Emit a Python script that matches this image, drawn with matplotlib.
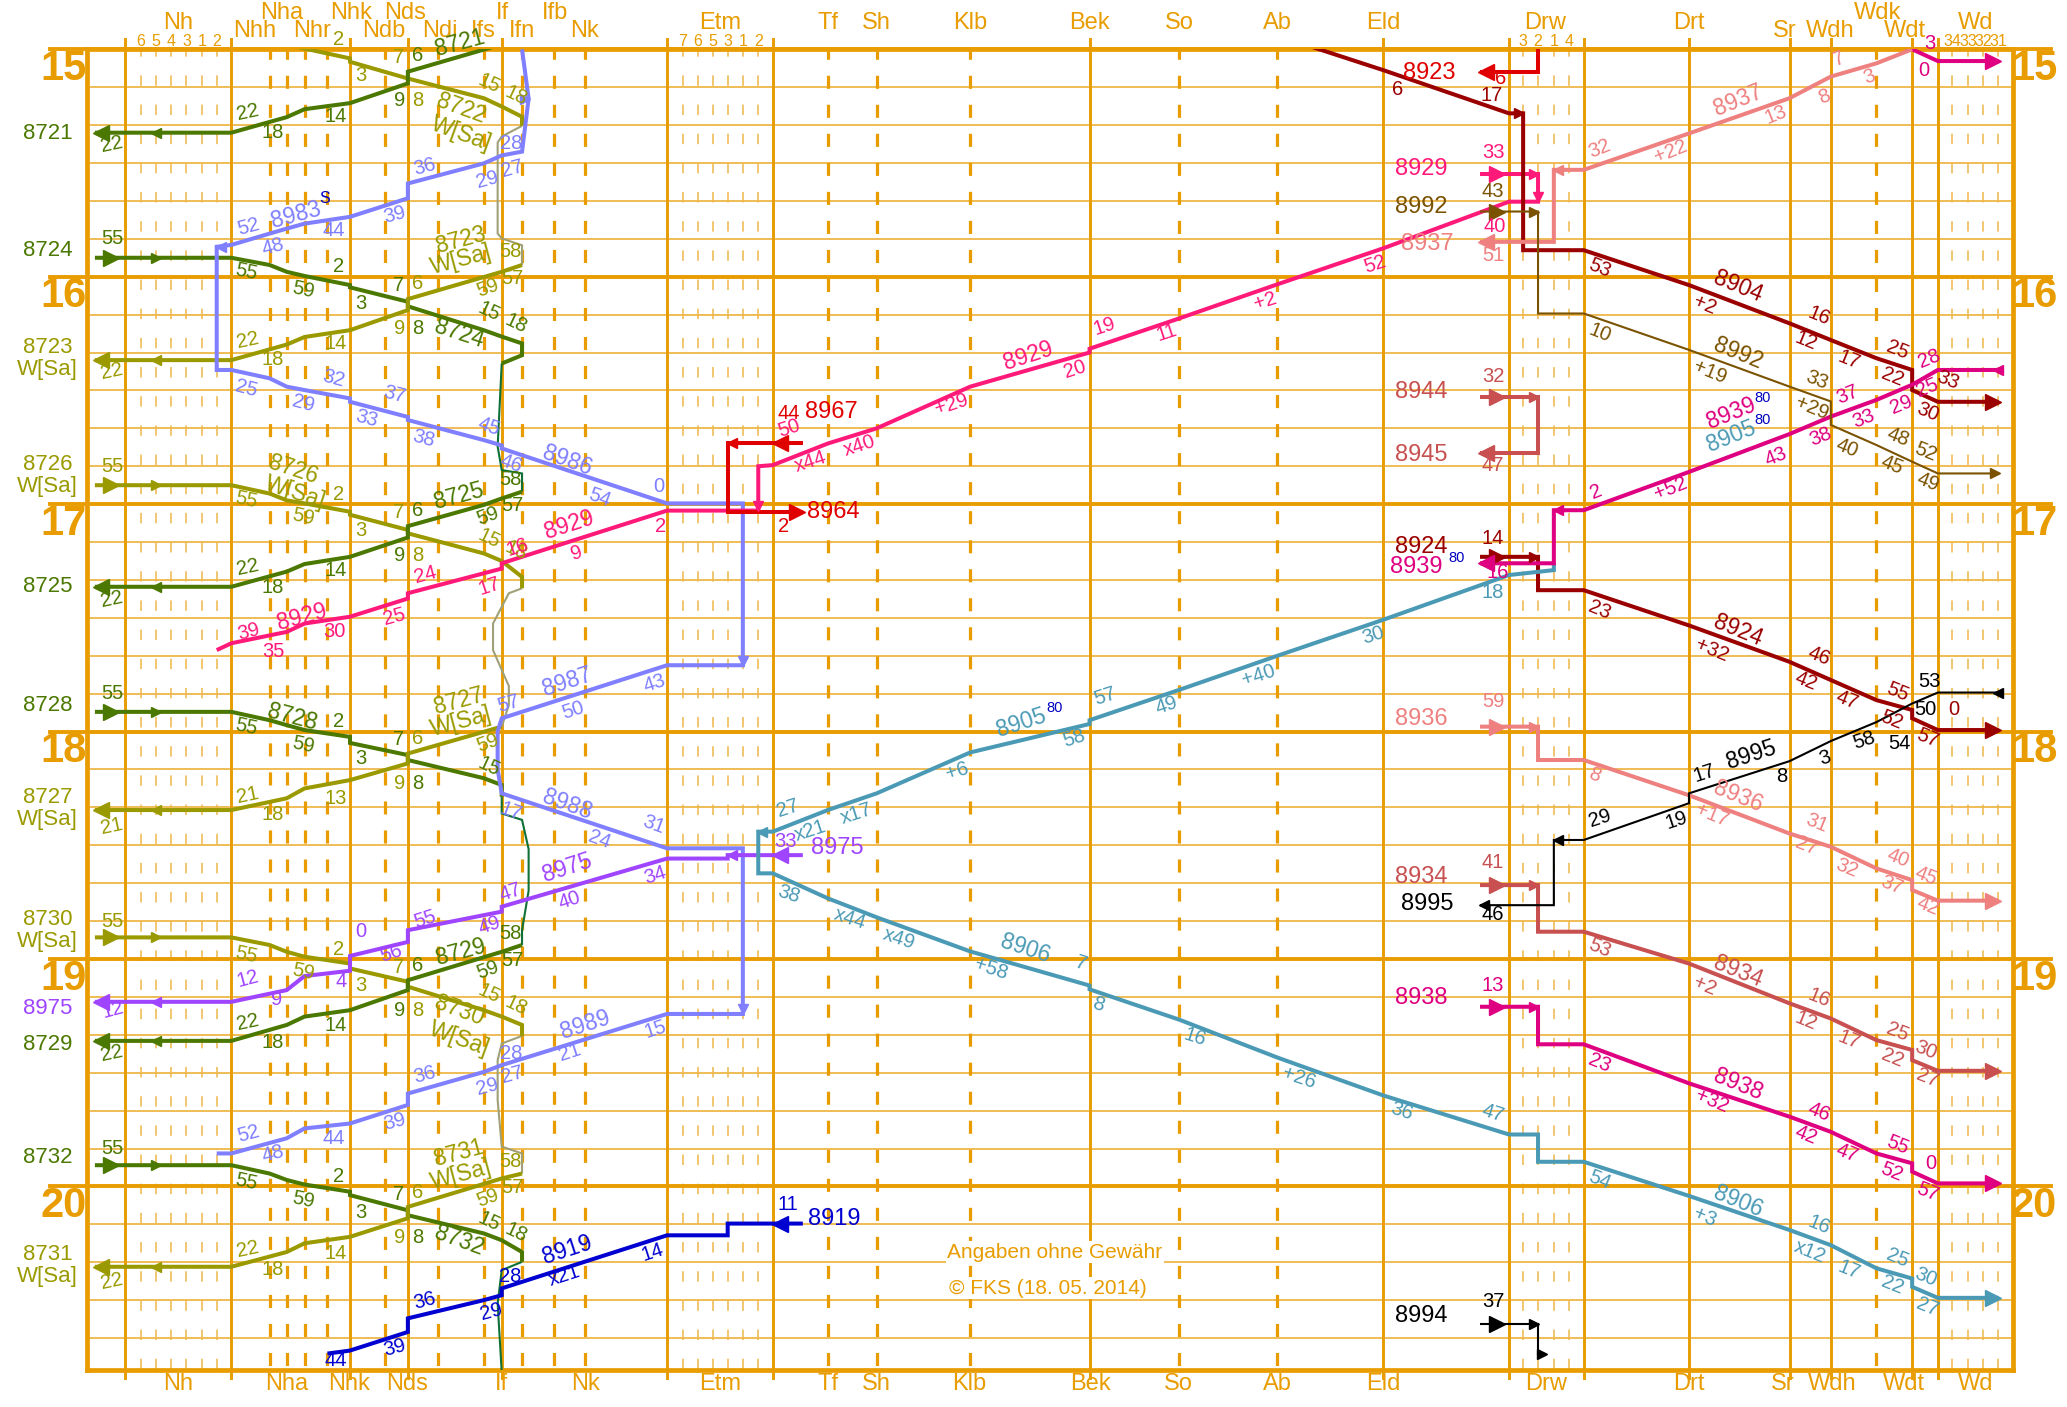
import matplotlib
matplotlib.use("Agg")
import matplotlib.pyplot as plt

plt.rcParams["font.family"] = ["Liberation Sans", "DejaVu Sans"]
plt.rcParams["lines.scale_dashes"] = False

ORANGE = "#e89c00"
ORANGE_LIGHT = "#efb64a"

# positions along the line (chart units), incl. track and stub positions
POS = {
    "W0": 72, "NhL": 95, "Nh2": 164.4, "NhR": 175.5, "Nhh": 204.5, "Nha": 217.5,
    "Nhr": 231, "Nhx": 248.4, "Nhk": 265.5, "Ndb": 292, "Nds": 309.4, "Ndi": 332,
    "Ifs": 367, "IfL": 374, "Ifm": 377.5, "If": 380.6, "IfR": 386, "Ifn": 396,
    "IfR3": 401, "Ifb": 420.5, "Nk": 443.5, "EtmL": 506, "Etm3": 552, "Etm1": 563.5,
    "Etm2": 575.2, "EtmR": 586.2, "EtmE": 609, "Tf": 628, "Sh": 665, "Klb": 736,
    "Bek": 826.5, "So": 894.5, "Ab": 969, "Eld": 1049.3, "DrwW": 1122.7,
    "DrwL": 1144.7, "Drw3": 1155.4, "Drw2": 1166.7, "Drw2b": 1173, "Drw1": 1178.7,
    "DrwR": 1201.4, "Drt": 1281.2, "Sr": 1357.5, "Wdh": 1388.8, "Wdk": 1423.4,
    "Wdt": 1450.5, "WdL": 1470, "E0": 1516,
}
MAIN_STATIONS = ["NhL", "NhR", "Nhk", "Nds", "If", "EtmL", "EtmR", "Bek", "Eld",
                 "DrwL", "DrwR", "Drt", "Sr", "Wdh", "Wdt", "WdL"]
HALTS = ["Nhh", "Nha", "Nhr", "Nhx", "Ndb", "Ndi", "Ifs", "Ifn", "Ifb", "Nk",
         "Tf", "Sh", "Klb", "So", "Ab", "Wdk"]
TRACK_NAMES = {
    "Nh": ["6", "5", "4", "3", "1", "2"],
    "Etm": ["7", "6", "5", "3", "1", "2"],
    "Drw": ["3", "2", "1", "4"],
    "Wd": ["34", "33", "32", "31"],
}
TRACK_X = {
    "Nh": [107, 118.4, 130, 141.4, 153, 164.4],
    "Etm": [517.8, 529.3, 540.5, 552, 563.5, 575.2],
    "Drw": [1155.4, 1166.7, 1178.7, 1190],
    "Wd": [1481, 1493, 1504.3, 1516],
}
# station names: (text, x, row)  row 0 low, 1 mid, 2 high
TOP_NAMES = [("Nh", 135.5, 1), ("Nhh", 193, 0), ("Nha", 214, 2), ("Nhr", 237, 0),
             ("Nhk", 266, 2), ("Ndb", 291, 0), ("Nds", 307, 2), ("Ndi", 333.6, 0),
             ("Ifs", 366.8, 0), ("If", 381, 2), ("Ifn", 395.6, 0), ("Ifb", 421, 2),
             ("Nk", 443.7, 0), ("Etm", 546, 1), ("Tf", 628, 1), ("Sh", 665, 1),
             ("Klb", 736, 1), ("Bek", 826.7, 1), ("So", 894.5, 1), ("Ab", 969, 1),
             ("Eld", 1049.3, 1), ("Drw", 1172, 1), ("Drt", 1281, 1), ("Sr", 1354, 0),
             ("Wdh", 1388.5, 0), ("Wdk", 1424, 2), ("Wdt", 1445, 0), ("Wd", 1498.3, 1)]
BOTTOM_NAMES = [("Nh", 135), ("Nha", 217.6), ("Nhk", 265), ("Nds", 309), ("If", 380),
                ("Nk", 444), ("Etm", 546), ("Tf", 628), ("Sh", 665), ("Klb", 735.5),
                ("Bek", 827), ("So", 894), ("Ab", 969), ("Eld", 1049), ("Drw", 1173),
                ("Drt", 1281.5), ("Sr", 1352), ("Wdh", 1390), ("Wdt", 1444), ("Wd", 1499)]
HOURS = [15, 16, 17, 18, 19, 20]

GREEN, OLIVE = "#4b7800", "#9a9a00"
KHAKI, DKGREEN = "#a0a078", "#0f7038"
LBLUE, PURPLE, PINK = "#7f7fff", "#a045ff", "#ff1a7a"
BLUE, RED, DKRED = "#0000d0", "#e00000", "#9a0000"
TEAL, SALMON, BROWN = "#4b9ab5", "#ee8080", "#7a5200"
ROSE, MAGENTA, BLACK = "#c85050", "#de0080", "#000000"

# ---- train paths: (station, minutes after 15:00) ----
T8721 = [("Ifn", -3.1), ("If", -1.3), ("Nds", 5.9), ("Nds", 9.0), ("Nhk", 14.2), ("Nhr", 15.8), ("Nha", 17.9), ("NhR", 22.0), ("W0", 22.0)]
T8722 = [("W0", -5), ("NhR", -5), ("Nhh", -3.1), ("Nha", -1.3), ("Nhr", -0.2), ("Nhk", 2.4), ("Nhk", 3.3), ("Nds", 7.7), ("Ifs", 12.9), ("If", 15.1), ("Ifn", 17.8), ("Ifn", 20.2)]
K0 = [("Ifn", 20.2), ("If", 23.0), ("Ifm", 24.6), ("Ifm", 48.6), ("If", 49.9), ("Ifn", 51.7), ("Ifn", 56.9)]
T8723 = [("Ifn", 56.9), ("If", 58.7), ("Nds", 65.9), ("Nds", 68.8), ("Nhk", 74.1), ("Nhr", 75.9), ("Nha", 77.9), ("NhR", 82.0), ("W0", 82.0)]
T8724 = [("W0", 55), ("NhR", 55), ("Nhh", 56.9), ("Nha", 58.7), ("Nhr", 59.8), ("Nhk", 62.2), ("Nhk", 62.8), ("Nds", 66.6), ("Nds", 67.8), ("Ifs", 74.1), ("If", 75.8), ("Ifn", 77.6), ("Ifn", 80.7), ("If", 82.9)]
G1 = [("If", 82.9), ("Ifm", 104.8), ("If", 111.0), ("Ifn", 111.9), ("Ifn", 116.7)]
T8725 = [("Ifn", 116.7), ("If", 118.5), ("Ifs", 120.2), ("Nds", 125.8), ("Nds", 128.8), ("Nhk", 133.9), ("Nhr", 135.8), ("Nha", 137.8), ("NhR", 141.8), ("W0", 141.8)]
T8726 = [("W0", 115), ("NhR", 115), ("Nhh", 117.2), ("Nha", 119), ("Nhr", 119.8), ("Nhk", 122.0), ("Nhk", 122.8), ("Nds", 126.8), ("Nds", 127.7), ("Ifs", 133), ("If", 135), ("Ifn", 139.2), ("Ifn", 142.2)]
K2 = [("Ifn", 142.2), ("IfR", 143.5), ("IfL", 151.5), ("IfL", 158.5), ("IfR", 168), ("IfR", 173), ("If", 178.7)]
T8727 = [("If", 178.7), ("Nds", 185.8), ("Nds", 188.4), ("Nhk", 192.8), ("Nhr", 195), ("Nha", 197.6), ("NhR", 200.7), ("W0", 200.7)]
T8728 = [("W0", 174.8), ("NhR", 174.8), ("Nhh", 177.0), ("Nha", 178.3), ("Nhr", 179.6), ("Nhk", 181.4), ("Nhk", 183.0), ("Nds", 186.2), ("Nds", 187.5), ("Ifs", 192.3), ("If", 194.1), ("If", 197.2)]
G3 = [("If", 197.2), ("If", 201.6), ("Ifn", 203.3), ("IfR3", 211), ("IfR3", 222), ("Ifn", 232.4), ("Ifn", 236.3)]
T8729 = [("Ifn", 236.3), ("If", 238.1), ("Nds", 245.6), ("Nds", 248.2), ("Nhk", 253.5), ("Nhr", 255.2), ("Nha", 257.4), ("NhR", 261.6), ("W0", 261.6)]
T8730 = [("W0", 234.3), ("NhR", 234.3), ("Nhh", 236.3), ("Nha", 238.1), ("Nhr", 239.4), ("Nhk", 241.2), ("Nhk", 242.5), ("Nds", 246.0), ("Nds", 247.3), ("Ifs", 253.5), ("If", 255.2), ("Ifn", 257.4), ("Ifn", 260.3)]
K4 = [("Ifn", 260.3), ("If", 262.3), ("Ifm", 266.7), ("Ifm", 277.2), ("If", 289.5), ("Ifn", 291.3), ("Ifn", 296.6)]
T8731 = [("Ifn", 296.6), ("If", 297.9), ("Nds", 305.4), ("Nds", 308.4), ("Nhk", 313.3), ("Nhr", 315.0), ("Nha", 317.3), ("NhR", 321.2), ("W0", 321.2)]
T8732 = [("W0", 294.4), ("NhR", 294.4), ("Nhh", 296.6), ("Nha", 298.3), ("Nhr", 299.5), ("Nhk", 301.4), ("Nhk", 302.3), ("Nds", 306.3), ("Nds", 307.6), ("Ifs", 312.4), ("If", 314.2), ("Ifn", 317.3), ("Ifn", 319.9)]
G5 = [("Ifn", 319.9), ("If", 322.1), ("Ifm", 330.9), ("If", 349)]

# light blue circuit 8983S -> 8986 -> 8987 -> 8988 -> 8989
T898X = [("Ifn", 0), ("IfR3", 13), ("Ifn", 27), ("If", 28), ("Ifs", 30.1), ("Nds", 35.4), ("Nds", 39.3), ("Nhk", 44.2), ("Nhr", 46.0), ("Nha", 47.3), ("NhR", 51.6), ("Nh2", 52.1),
         ("Nh2", 84.6), ("NhR", 84.6), ("Nhh", 86.8), ("Nha", 89), ("Nhr", 89.9), ("Nhk", 92.1), ("Nhk", 93), ("Nds", 97), ("Nds", 97.8), ("Ifs", 103.1), ("If", 104.5), ("If", 105.3), ("EtmL", 119.8), ("Etm1", 119.8),
         ("Etm1", 162.5), ("EtmL", 162.5), ("If", 176.5), ("Ifm", 180), ("Ifm", 190), ("If", 196.3), ("EtmL", 210.8), ("Etm1", 210.8),
         ("Etm1", 254.5), ("EtmL", 254.5), ("If", 268.0), ("Ifs", 269.8), ("Nds", 275.5), ("Nds", 278.5), ("Nhk", 283.4), ("Nhr", 284.7), ("Nha", 287.3), ("NhR", 291.3), ("Nh2", 291.3)]
T8929 = [("DrwW", 32.9), ("Drw2", 32.9), ("Drw2", 40.2), ("DrwL", 40.2), ("Eld", 52.5), ("Ab", 62), ("So", 71), ("Bek", 79), ("Bek", 80), ("Klb", 89), ("Sh", 100), ("Tf", 104), ("EtmR", 109.7), ("Etm2", 110),
         ("Etm2", 121.7), ("EtmL", 121.7), ("If", 135.6), ("If", 137), ("Nds", 143.5), ("Nds", 144.9), ("Nhk", 149.7), ("Nhr", 151.5), ("Nha", 153.7), ("NhR", 156.7), ("Nh2", 158.5)]
T8967 = [("EtmE", 103.8), ("Etm3", 103.8), ("Etm3", 122), ("EtmE", 122)]
T8975 = [("EtmE", 212.6), ("Etm3", 212.6), ("Etm3", 213.5), ("EtmL", 213.5), ("If", 226.2), ("If", 227.5), ("Nds", 232.4), ("Nds", 235.5), ("Nhk", 239.2), ("Nhk", 243.1), ("Nhr", 244.5), ("Nha", 248.2), ("NhR", 251.3), ("W0", 251.3)]
T8919 = [("EtmE", 309.8), ("Etm3", 309.8), ("Etm3", 312.9), ("EtmL", 312.9), ("If", 326.9), ("If", 328.7), ("Ifs", 330.0), ("Nds", 334.8), ("Nds", 338.4), ("Nhk", 343.3), ("Nhx", 344.1)]
T8923 = [("Drw2", -1), ("Drw2", 5.9), ("DrwW", 5.9)]
T8904 = [("Ab", -3.6), ("Eld", 5.5), ("DrwL", 16.9), ("Drw3", 16.9), ("Drw3", 53), ("DrwR", 53), ("Drt", 62.2), ("Sr", 72.3), ("Wdh", 76.7), ("Wdk", 81.5), ("Wdt", 84.6), ("Wdt", 89.9), ("WdL", 93), ("E0", 93)]
T8924 = [("DrwW", 133.9), ("Drw2", 133.9), ("Drw2", 142.7), ("DrwR", 142.7), ("Drt", 152), ("Sr", 161.6), ("Wdh", 166.4), ("Wdk", 171.7), ("Wdt", 174.3), ("Wdt", 176.5), ("WdL", 179.6), ("E0", 179.6)]
TMAG0 = [("Wdk", -3), ("Wdt", 0), ("WdL", 3.1), ("E0", 3.1)]
T8939 = [("E0", 84.6), ("WdL", 84.6), ("Wdt", 88.5), ("Wdk", 92.5), ("Wdh", 96.9), ("Sr", 101.5), ("Drt", 111.5), ("DrwR", 121.6), ("Drw1", 121.6), ("Drw1", 135.6), ("DrwW", 135.6)]
T8905 = [("Drw1", 135.6), ("Drw1", 137.4), ("DrwL", 138.7), ("Eld", 150.5), ("Ab", 160), ("So", 169), ("Bek", 177), ("Bek", 178), ("Klb", 185.5), ("Sh", 196.3), ("Tf", 200.7), ("EtmR", 206.4), ("Etm2", 206.4),
         ("Etm2", 217.4), ("EtmR", 217.4), ("Tf", 224), ("Sh", 229), ("Klb", 238), ("Bek", 247), ("Bek", 248), ("So", 256), ("Ab", 266), ("Eld", 276), ("DrwL", 286.3), ("Drw2", 286.3),
         ("Drw2", 293.5), ("DrwR", 293.5), ("Drt", 302.5), ("Sr", 311.5), ("Wdh", 315.5), ("Wdk", 321.6), ("Wdt", 324.3), ("Wdt", 326.5), ("WdL", 329.4), ("E0", 329.4)]
T8937 = [("Wdt", 0), ("Wdk", 3.7), ("Wdh", 7.2), ("Sr", 12.9), ("Drt", 22.2), ("DrwR", 31.8), ("Drw1", 31.8), ("Drw1", 50.8), ("DrwW", 50.8)]
T8936 = [("DrwW", 178.7), ("Drw2", 178.7), ("Drw2", 187.5), ("DrwR", 187.5), ("Drt", 196.8), ("Sr", 206.9), ("Wdh", 210.4), ("Wdk", 216.1), ("Wdt", 219.2), ("Wdt", 221.8), ("WdL", 224.6), ("E0", 224.6)]
T8944 = [("DrwW", 91.7), ("Drw2", 91.7), ("Drw2", 106.6), ("DrwW", 106.6)]
T8934 = [("DrwW", 220.5), ("Drw2", 220.5), ("Drw2", 232.8), ("DrwR", 232.8), ("Drt", 241.2), ("Sr", 251.7), ("Wdh", 255.7), ("Wdk", 261.4), ("Wdt", 264.0), ("Wdt", 266.7), ("WdL", 269.5), ("E0", 269.5)]
T8938 = [("DrwW", 252.6), ("Drw2", 252.6), ("Drw2", 262.5), ("DrwR", 262.5), ("Drt", 272.8), ("Sr", 281.6), ("Wdh", 285.6), ("Wdk", 291.3), ("Wdt", 293.9), ("Wdt", 296.1), ("WdL", 299.2), ("E0", 299.2)]
T8992 = [("DrwW", 42.8), ("Drw2", 42.8), ("Drw2", 69.7), ("DrwR", 69.7), ("Drt", 79.3), ("Sr", 89), ("Wdh", 92.9), ("Wdh", 99.1), ("Wdk", 104.4), ("Wdt", 108.8), ("WdL", 111.9), ("E0", 111.9)]
T8995 = [("E0", 169.7), ("WdL", 169.7), ("Wdt", 172.6), ("Wdk", 177.5), ("Wdh", 182.5), ("Sr", 187.8), ("Drt", 196.3), ("Drt", 198.9), ("DrwR", 208.6), ("Drw1", 208.6), ("Drw1", 225.8), ("DrwW", 225.8)]
T8994 = [("DrwW", 336.3), ("Drw2", 336.3), ("Drw2", 344.1), ("Drw2b", 344.1)]

LW, LW_THIN = 2.9, 1.5
# (path, colour, width, arrow heads (segment, fraction, big))
TRAINS = [
    (K0, KHAKI, LW_THIN, []), (K2, KHAKI, LW_THIN, []), (K4, KHAKI, LW_THIN, []),
    (G1, DKGREEN, LW_THIN, []), (G3, DKGREEN, LW_THIN, []), (G5, DKGREEN, LW_THIN, []),
    (T8722, OLIVE, LW, [(0, 0.12, 1), (0, 0.45, 0)]),
    (T8721, GREEN, LW, [(-1, 1, 1), (-1, 0.55, 0)]),
    (T8724, GREEN, LW, [(0, 0.12, 1), (0, 0.45, 0)]),
    (T8723, OLIVE, LW, [(-1, 1, 1), (-1, 0.55, 0)]),
    (T8726, OLIVE, LW, [(0, 0.12, 1), (0, 0.45, 0)]),
    (T8725, GREEN, LW, [(-1, 1, 1), (-1, 0.55, 0)]),
    (T8728, GREEN, LW, [(0, 0.12, 1), (0, 0.45, 0)]),
    (T8727, OLIVE, LW, [(-1, 1, 1), (-1, 0.55, 0)]),
    (T8730, OLIVE, LW, [(0, 0.12, 1), (0, 0.45, 0)]),
    (T8729, GREEN, LW, [(-1, 1, 1), (-1, 0.55, 0)]),
    (T8732, GREEN, LW, [(0, 0.12, 1), (0, 0.45, 0)]),
    (T8731, OLIVE, LW, [(-1, 1, 1), (-1, 0.55, 0)]),
    (T898X, LBLUE, LW, [(10, 1, 0), (25, 1, 0), (33, 1, 0), (44, 1, 0)]),
    (T8929, PINK, LW, [(0, 0.3, 1), (1, 1, 0), (13, 1, 0), (24, 1, 0)]),
    (T8967, RED, LW, [(0, 0.3, 1), (0, 1, 0), (2, 1, 1)]),
    (T8975, PURPLE, LW, [(0, 0.3, 1), (0, 1, 0), (-1, 1, 1), (-1, 0.55, 0)]),
    (T8919, BLUE, LW, [(0, 0.3, 1)]),
    (T8923, RED, LW, [(-1, 1, 1)]),
    (T8904, DKRED, LW, [(2, 1, 0), (-1, 1, 1)]),
    (T8924, DKRED, LW, [(0, 0.3, 1), (0, 1, 0), (-1, 1, 1)]),
    (TMAG0, MAGENTA, LW, [(-1, 1, 1)]),
    (T8905, TEAL, LW, [(11, 1, 0), (-1, 1, 1)]),
    (T8939, MAGENTA, LW, [(0, 0, 0), (7, 1, 0), (-1, 1, 1)]),
    (T8937, SALMON, LW, [(5, 1, 0), (-1, 1, 1)]),
    (T8936, SALMON, LW, [(0, 0.3, 1), (0, 1, 0), (-1, 1, 1)]),
    (T8944, ROSE, LW, [(0, 0.3, 1), (0, 1, 0), (-1, 1, 1)]),
    (T8934, ROSE, LW, [(0, 0.3, 1), (0, 1, 0), (-1, 1, 1)]),
    (T8938, MAGENTA, LW, [(0, 0.3, 1), (0, 1, 0), (-1, 1, 1)]),
    (T8992, BROWN, LW_THIN, [(0, 0.3, 1), (0, 1, 0), (-1, 1, 0)]),
    (T8995, BLACK, LW_THIN, [(0, 0, 0), (8, 1, 0), (-1, 1, 0)]),
    (T8994, BLACK, LW_THIN, [(0, 0.3, 1), (0, 1, 0), (-1, 1, 0)]),
]

# ---- labels of the hourly Nh - If trains ----
EAST_SLOTS = [(85, -10.0, 0), (187, -1.2, -12), (230, 3.5, -12), (257, -2.6, 0), (273.6, 7.0, 0),
              (302, 2.2, 0), (317, 13.6, 0), (371, 9.2, -25), (391.5, 12.3, -25)]
WEST_SLOTS = [(387.4, -6.6, 0), (388.7, 0.4, 0), (369.8, 3.0, 20), (317, 1.7, 0), (303, 13.6, 0),
              (254.6, 17.6, 0), (188, 16.7, 12), (207, 21.9, 0), (85, 25.0, 12)]
EAST_FULL = ["55", "55", "59", "2", "3", "7", "8", "15", "18"]
WEST_FULL = ["58", "57", "59", "6", "9", "14", "22", "18", "22"]
BLOCKS = [  # hour offset, east colour, east texts, west colour, west texts
    (0, OLIVE, [None, None, None, "2", "3", "7", "8", "15", "18"], GREEN, [None, None, None, "6", "9", "14", "22", "18", "22"]),
    (60, GREEN, EAST_FULL, OLIVE, WEST_FULL),
    (120, OLIVE, EAST_FULL, GREEN, WEST_FULL),
    (180, GREEN, ["55", "55", "59", "2", "3", "7", "8", "15", None], OLIVE, [None, None, "59", "6", "9", "13", "21", "18", "21"]),
    (240, OLIVE, EAST_FULL, GREEN, WEST_FULL),
    (300, GREEN, EAST_FULL, OLIVE, WEST_FULL),
]
NUM_LABELS = [  # (text, colour, x, minute, rotation)
    ("8722", OLIVE, 349.5, 15.7, -20), ("W[Sa]", OLIVE, 349.5, 22.3, -20),
    ("8721", GREEN, 349, -1.7, 15),
    ("8724", GREEN, 348, 74.9, -18),
    ("8723", OLIVE, 349.5, 50.3, 15), ("W[Sa]", OLIVE, 349.5, 55.6, 15),
    ("8726", OLIVE, 222, 111.0, -18), ("W[Sa]", OLIVE, 224, 117.1, -18),
    ("8725", GREEN, 348, 118.0, 15),
    ("8728", GREEN, 222, 176.1, -15),
    ("8727", OLIVE, 348, 172.1, 15), ("W[Sa]", OLIVE, 349.5, 177.4, 15),
    ("8730", OLIVE, 348, 253.5, -20), ("W[Sa]", OLIVE, 348, 261.0, -20),
    ("8729", GREEN, 349.5, 238.1, 15),
    ("8732", GREEN, 348, 314.2, -20),
    ("8731", OLIVE, 348, 291.3, 15), ("W[Sa]", OLIVE, 349.5, 296.9, 15),
]
MARGIN_LABELS = [  # left margin train numbers (text, colour, minute)
    ("8721", GREEN, 22.1), ("8724", GREEN, 53.1), ("8723\nW[Sa]", OLIVE, 81.6),
    ("8726\nW[Sa]", OLIVE, 112.5), ("8725", GREEN, 141.8), ("8728", GREEN, 173.1),
    ("8727\nW[Sa]", OLIVE, 200.2), ("8730\nW[Sa]", OLIVE, 232.4), ("8975", PURPLE, 253.0),
    ("8729", GREEN, 262.6), ("8732", GREEN, 292.4), ("8731\nW[Sa]", OLIVE, 320.9),
]
# other time / number labels: colour -> [(text, x, minute, rotation)]
LABELS = {
    LBLUE: [("28", 387.4, 24.8, 0), ("27", 388.7, 31.4, 15), ("29", 369.8, 34.5, 15), ("36", 322.4, 31.0, 15),
            ("39", 299.3, 43.7, 15), ("44", 253.3, 47.7, 0), ("48", 207.2, 52.1, 15), ("52", 188.3, 46.8, 15),
            ("8983", 224.8, 43.7, 15), ("25", 187, 89.5, -15), ("29", 230.3, 93.4, -15), ("32", 253.3, 86.8, -15),
            ("33", 277.7, 97.4, -15), ("37", 299.3, 91.2, -15), ("38", 321, 102.6, -15), ("45", 371.1, 99.6, -20),
            ("46", 387.4, 109.2, -20), ("8986", 430.5, 108.4, -20), ("54", 454.8, 118.4, -20), ("0", 499.6, 115.3, 0),
            ("57", 386, 172.6, 15), ("8987", 430.5, 166.9, 18), ("50", 434.5, 174.3, 18), ("43", 496.8, 167.2, 18),
            ("17", 387.4, 201.2, -20), ("8988", 430.5, 199.4, -20), ("24", 454.8, 208.6, -20), ("31", 495.5, 204.6, -20),
            ("8989", 444, 257.3, 18), ("15", 497, 258.6, 18), ("21", 432, 264.6, 18), ("28", 387.4, 264.9, 0),
            ("27", 388.7, 270.6, 15), ("29", 369.8, 273.7, 15), ("36", 322.4, 270.6, 15), ("39", 299.3, 282.9, 15),
            ("44", 253.3, 287.3, 0), ("48", 207.2, 291.3, 15), ("52", 188.3, 286.0, 15)],
    PINK: [("33", 1132.6, 27.3, 0), ("40", 1134, 46.8, 0), ("52", 1043, 56.6, 18), ("+2", 960, 66.4, 18),
           ("11", 885, 74.6, 18), ("19", 838, 73.2, 18), ("20", 815, 84.4, 18), ("8929", 780, 80.9, 18),
           ("+29", 722, 93.8, 18), ("x40", 652, 104.5, 18), ("x44", 615, 108.7, 18), ("50", 598.4, 100.0, 18),
           ("2", 500.9, 125.9, 0), ("9", 437.2, 133, 18), ("8929", 431.8, 125.5, 18), ("16", 392.5, 131.3, 18),
           ("17", 371.1, 141.8, 18), ("24", 322.4, 138.7, 15), ("25", 299.3, 149.7, 15), ("30", 253.3, 153.6, 0),
           ("35", 207.2, 158.9, 0), ("39", 188.3, 153.6, 15), ("8929", 229, 149.7, 15)],
    RED: [("44", 598.4, 96.0, 0), ("2", 594.4, 125.9, 0), ("6", 1138, 7.6, 0)],
    DKRED: [("6", 1060.4, 10.7, 0), ("17", 1131.5, 12.2, 0), ("53", 1213.6, 57.8, -22), ("8904", 1318.7, 62.6, -22),
            ("+2", 1293.2, 67.5, -22), ("16", 1379.8, 70.5, -22), ("12", 1369.9, 77.1, -22), ("17", 1402.5, 82.0, -22),
            ("25", 1439.5, 79.3, -22), ("22", 1435.2, 86.4, -22), ("30", 1462.2, 95.6, -22), ("33", 1477.8, 87.3, -22),
            ("14", 1132.6, 129.0, 0), ("23", 1213.6, 148.0, -22), ("8924", 1318.7, 153.2, -22), ("+32", 1298.8, 158.5, -22),
            ("46", 1379.8, 160.2, -22), ("42", 1369.9, 166.8, -22), ("47", 1401.1, 171.7, -22), ("55", 1439.5, 169.5, -22),
            ("52", 1435.2, 177.0, -22), ("57", 1462.2, 181.8, -22), ("0", 1482.1, 174.3, 0)],
    SALMON: [("7", 1395.4, 2.4, 22), ("3", 1418.2, 7.2, 22), ("8", 1384, 12.5, 22), ("13", 1347.1, 17.3, 22),
             ("8937", 1318.7, 13.4, 22), ("+22", 1267.6, 27.0, 22), ("32", 1213.6, 26.1, 22), ("51", 1132.6, 54.3, 0),
             ("59", 1132.6, 172.1, 0), ("8", 1209.3, 191.4, -22), ("8936", 1318.7, 197.1, -22), ("+17", 1298.8, 202.0, -22),
             ("31", 1378.4, 204.1, -22), ("27", 1369.9, 210.3, -22), ("32", 1401.1, 216.0, -22), ("40", 1439.5, 213.4, -22),
             ("37", 1435.2, 220.4, -22), ("45", 1460.8, 218.2, -22), ("42", 1462.2, 226.1, -22)],
    BROWN: [("43", 1132.6, 37.6, 0), ("10", 1213.6, 74.9, -22), ("8992", 1318.7, 80.2, -22), ("+19", 1297.4, 85.1, -22),
            ("33", 1378.4, 87.3, -22), ("+29", 1374.1, 94.7, -22), ("40", 1401.1, 105.3, -22), ("48", 1439.5, 102.2, -22),
            ("45", 1435.2, 109.7, -22), ("52", 1460.8, 106.2, -22), ("49", 1462.2, 114.1, -22)],
    MAGENTA: [("3", 1463.6, -1.6, 0), ("0", 1459.4, 5.5, 0), ("28", 1463.6, 81.5, 22), ("25", 1462.2, 89.4, 22),
              ("29", 1442.3, 93.8, 22), ("33", 1413.9, 97.4, 22), ("37", 1401.1, 91.2, 22), ("38", 1381.2, 102.2, 22),
              ("43", 1347.1, 107.5, 22), ("8939", 1313, 96.0, 22), ("+52", 1267.6, 115.9, 22), ("2", 1210.8, 116.7, 22),
              ("16", 1136, 138.0, 0), ("13", 1132.6, 246.9, 0), ("23", 1213.6, 267.5, -22), ("8938", 1318.7, 273.2, -22),
              ("+32", 1298.8, 277.6, -22), ("46", 1379.8, 280.3, -22), ("42", 1369.9, 286.4, -22), ("47", 1401.1, 291.3, -22),
              ("55", 1439.5, 289.1, -22), ("52", 1435.2, 296.1, -22), ("0", 1465, 293.9, 0), ("57", 1462.2, 301.4, -22)],
    ROSE: [("32", 1132.6, 86.4, 0), ("47", 1132.6, 109.7, 0), ("41", 1132.6, 214.6, 0), ("53", 1213.6, 237.0, -22),
           ("8934", 1318.7, 243.4, -22), ("+2", 1293.2, 247.3, -22), ("16", 1379.8, 250.4, -22), ("12", 1369.9, 256.5, -22),
           ("17", 1402.5, 261.4, -22), ("25", 1439.5, 259.2, -22), ("22", 1435.2, 266.2, -22), ("30", 1460.8, 264.0, -22),
           ("27", 1462.2, 271.5, -22)],
    TEAL: [("8905", 1313, 102.2, 22), ("18", 1132, 143.2, 0), ("30", 1042, 154.6, 18), ("+40", 955, 165.1, 18),
           ("49", 885, 173.1, 18), ("57", 838, 170.6, 18), ("58", 815, 181.8, 18), ("8905", 775, 177.6, 18),
           ("+6", 726, 190.5, 18), ("x17", 650, 201.6, 18), ("x21", 615, 206.1, 18), ("27", 598, 200.2, 18),
           ("38", 598, 222.8, -18), ("x44", 645, 229.4, -18), ("x49", 682, 234.6, -18), ("+58", 752, 242.6, -18),
           ("8906", 778, 237.4, -18), ("7", 820, 241.2, -18), ("8", 833, 252.0, -18), ("16", 906, 260.7, -18),
           ("+26", 985, 271.5, -18), ("36", 1063, 280.2, -18), ("47", 1132.6, 280.7, -18), ("54", 1213.6, 298.3, -22),
           ("8906", 1318.7, 304.0, -22), ("+3", 1293.2, 308.0, -22), ("16", 1379.8, 310.2, -22), ("x12", 1372.7, 317.2, -22),
           ("17", 1402.5, 322.0, -22), ("25", 1439.5, 319.0, -22), ("22", 1435.2, 326.0, -22), ("30", 1460.8, 323.8, -22),
           ("27", 1462.2, 331.7, -22)],
    BLACK: [("53", 1463.6, 166.8, 0), ("50", 1460.8, 174.3, 0), ("58", 1413.9, 182.2, 18), ("54", 1440.9, 183.1, 0),
            ("3", 1384.1, 187.0, 18), ("8", 1351.4, 191.8, 0), ("8995", 1328.7, 186.1, 18), ("17", 1293.2, 191.0, 18),
            ("19", 1271.9, 203.3, 18), ("29", 1213.6, 202.9, 18), ("46", 1132.6, 228.3, 0), ("37", 1132.6, 330.4, 0)],
    PURPLE: [("33", 595.7, 209.1, 0), ("34", 496.8, 217.9, 18), ("8975", 430.5, 216.1, 18), ("40", 431.8, 224.5, 18),
             ("47", 387.4, 222.3, 18), ("49", 371.1, 231.2, 18), ("55", 322.4, 229.6, 18), ("56", 296.6, 238.5, 18),
             ("0", 273.6, 232.8, 0), ("4", 258.7, 246, 0), ("12", 188.3, 245.1, 15), ("9", 210, 250.8, 0),
             ("12", 85.3, 253.5, 15)],
    BLUE: [("11", 598, 304.9, 0), ("14", 495, 317.4, 18), ("8919", 430, 316.7, 18), ("x21", 428, 323.7, 18),
           ("28", 387, 323.7, 0), ("29", 373, 333.1, 15), ("36", 322, 330.3, 15), ("39", 299, 342.5, 15), ("44", 255, 346.0, 0)],
}
# train numbers beside the stub arrows (text, colour, x, minute)
STUB_NUMBERS = [
    ("8923", RED, 1084.5, 6.3), ("8929", PINK, 1078, 31.5), ("8992", BROWN, 1078, 41.6),
    ("8937", SALMON, 1083, 51.3), ("8944", ROSE, 1078, 90.3), ("8945", ROSE, 1078, 107.0),
    ("8924", DKRED, 1078, 131.3), ("8939", MAGENTA, 1074, 136.6), ("8936", SALMON, 1078, 176.6),
    ("8934", ROSE, 1078, 218.3), ("8995", BLACK, 1083, 225.6), ("8938", MAGENTA, 1078, 250.3),
    ("8994", BLACK, 1078, 334.1), ("8967", RED, 631, 95.6), ("8964", RED, 632.3, 122.0),
    ("8975", PURPLE, 635, 210.7), ("8919", BLUE, 633, 308.7),
]
SUPERSCRIPTS = [(1337.2, 92.1), (1337.2, 97.8), (800, 173.8), (1105, 134.3)]

FS_TIME, FS_NUM, FS_STATION, FS_HOUR = 14.5, 17, 17, 30
Y_TOP, Y_BOTTOM = 0, 348.3

fig = plt.figure(figsize=(20.67, 14.07), dpi=100)
ax = fig.add_axes([87 / 2067, 1 - 1369.5 / 1407, (2013 - 87) / 2067, (1369.5 - 49.3) / 1407])
ax.set_xlim(66, 1527)
ax.set_ylim(Y_BOTTOM, Y_TOP)
ax.set_xticks([])
ax.set_yticks([])
for sp in ax.spines.values():
    sp.set_color(ORANGE)
    sp.set_linewidth(3.4)

# grid: ten-minute lines and hour lines
for m in range(10, 349, 10):
    if m % 60:
        ax.axhline(m, color=ORANGE_LIGHT, lw=1.3, zorder=1)
for i, h in enumerate(HOURS):
    m = 60 * i
    ax.plot([38, 1556], [m, m], color=ORANGE, lw=2.8, zorder=1.5, clip_on=False)
    ax.text(48, m + 5.2, str(h), color=ORANGE, fontsize=FS_HOUR, fontweight="bold", ha="center", va="center")
    ax.text(1543, m + 5.2, str(h), color=ORANGE, fontsize=FS_HOUR, fontweight="bold", ha="center", va="center")

for s in MAIN_STATIONS:
    ax.plot([POS[s], POS[s]], [-2.6, 350.5], color=ORANGE, lw=2.1, zorder=1.5, clip_on=False)
for s in HALTS:
    ax.plot([POS[s], POS[s]], [0, Y_BOTTOM], color=ORANGE, lw=2.3, ls=(2, (9.4, 11.5)), zorder=1.5)
for grp, xs in TRACK_X.items():
    for x, name in zip(xs, TRACK_NAMES[grp]):
        ax.plot([x, x], [0, Y_BOTTOM], color=ORANGE_LIGHT, lw=1.1, ls=(2, (7.5, 13.5)), zorder=1.2)
        ax.text(x, -2.0, name, color=ORANGE, fontsize=11.5, ha="center", va="center")

ROW_Y = {0: -4.7, 1: -6.9, 2: -9.5}
for name, x, row in TOP_NAMES:
    ax.text(x, ROW_Y[row], name, color=ORANGE, fontsize=FS_STATION, ha="center", va="center")
for name, x in BOTTOM_NAMES:
    ax.text(x, 352.0, name, color=ORANGE, fontsize=FS_STATION, ha="center", va="center")


def draw_train(path, color, lw, heads):
    xs = [POS[s] for s, _ in path]
    ys = [t for _, t in path]
    ax.plot(xs, ys, color=color, lw=lw, zorder=3, solid_joinstyle="miter", solid_capstyle="butt")
    nseg = len(path) - 1
    for seg, frac, big in heads:
        seg = seg % nseg
        x0, y0, x1, y1 = xs[seg], ys[seg], xs[seg + 1], ys[seg + 1]
        x = x0 + frac * (x1 - x0)
        y = y0 + frac * (y1 - y0)
        if x1 != x0:
            mk = ">" if x1 > x0 else "<"
            if frac == 1:
                x -= (4.5 if big else 3) * (1 if x1 > x0 else -1)
        else:
            mk = "v" if y1 > y0 else "^"
            if frac == 1:
                y -= 1.2 * (1 if y1 > y0 else -1)
        ax.plot([x], [y], marker=mk, ms=12 if big else 7.5, color=color, mec=color, zorder=3.5)


for path, color, lw, heads in TRAINS:
    draw_train(path, color, lw, heads)

# labels
for hour, ecol, etexts, wcol, wtexts in BLOCKS:
    for (x, dm, rot), txt in zip(EAST_SLOTS, etexts):
        if txt:
            ax.text(x, hour + dm, txt, color=ecol, fontsize=FS_TIME, rotation=rot, ha="center", va="center", zorder=5)
    for (x, dm, rot), txt in zip(WEST_SLOTS, wtexts):
        if txt:
            ax.text(x, hour + dm, txt, color=wcol, fontsize=FS_TIME, rotation=rot, ha="center", va="center", zorder=5)
for txt, c, x, m, rot in NUM_LABELS:
    ax.text(x, m, txt, color=c, fontsize=FS_NUM - 0.5, rotation=rot, ha="center", va="center", zorder=5)
for txt, c, m in MARGIN_LABELS:
    ax.text(36, m, txt, color=c, fontsize=FS_NUM - 1, ha="center", va="center", linespacing=1.05)
for c, items in LABELS.items():
    for txt, x, m, rot in items:
        fs = FS_NUM - 0.5 if len(txt) == 4 and txt[0] == "8" else FS_TIME
        ax.text(x, m, txt, color=c, fontsize=fs, rotation=rot, ha="center", va="center", zorder=5)
for txt, c, x, m in STUB_NUMBERS:
    ax.text(x, m, txt, color=c, fontsize=FS_NUM, ha="center", va="center", zorder=5)
for x, m in SUPERSCRIPTS:
    ax.text(x, m, "80", color="#0000c0", fontsize=10.5, ha="center", va="center", zorder=5)
ax.text(246.5, 39.3, "S", color="#0000c0", fontsize=11.5, ha="center", va="center", zorder=5)

ax.text(800, 317.4, "Angaben ohne Gewähr", color=ORANGE, fontsize=15, ha="center", va="center", zorder=6,
        bbox=dict(facecolor="white", edgecolor="none", pad=1))
ax.text(795, 326.8, "© FKS (18. 05. 2014)", color=ORANGE, fontsize=15, ha="center", va="center", zorder=6,
        bbox=dict(facecolor="white", edgecolor="none", pad=1))

fig.savefig("out.png", dpi=100)
